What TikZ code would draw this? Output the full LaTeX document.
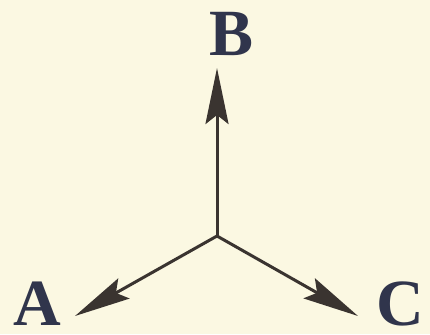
\documentclass[tikz,border=0pt]{standalone}
\usepackage{fontspec}
\setmainfont{Liberation Serif}
\usetikzlibrary{arrows.meta}
\definecolor{bg}{HTML}{FBF8E2}
\definecolor{arr}{HTML}{3A3430}
\definecolor{lab}{HTML}{30354C}
\tikzset{
  vec/.style={draw=arr, line width=3pt, -{Stealth[length=56pt,width=23pt,inset=9pt]}},
  lbl/.style={text=lab, font=\fontsize{66}{66}\selectfont\bfseries, inner sep=0pt}
}
\begin{document}
\begin{tikzpicture}[x=1pt,y=-1pt]
\fill[bg] (0,0) rectangle (430,334);
\useasboundingbox (0,0) rectangle (430,334);
\coordinate (O) at (217,236);
\coordinate (tB) at (217,68);
\coordinate (tA) at (75,316);
\coordinate (tC) at (358,316);
\node[lbl] (B) at (232,34) {B};
\node[lbl] (A) at (37,304) {A};
\node[lbl] (C) at (400,304) {C};
\draw[vec] (O) -- (tB);
\draw[vec] (O) -- (tA);
\draw[vec] (O) -- (tC);
\end{tikzpicture}
\end{document}
